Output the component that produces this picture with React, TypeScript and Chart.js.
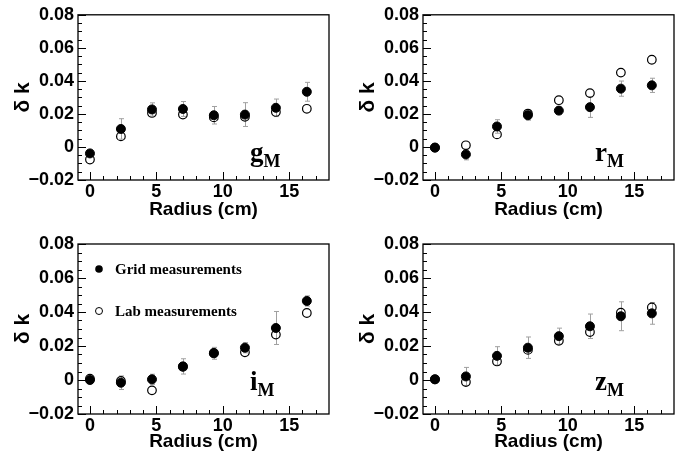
import React, { useEffect, useRef } from 'react';
import { Chart, registerables } from 'chart.js';

Chart.register(...registerables);

// ---------- data ----------
const radius = [0, 2.33, 4.67, 7.0, 9.33, 11.67, 14.0, 16.33];

const gGrid = [-0.0039, 0.0109, 0.0227, 0.023, 0.0192, 0.0196, 0.0237, 0.0334];
const gGridErr = [0.001, 0.0062, 0.004, 0.0045, 0.0053, 0.0072, 0.0053, 0.0057];
const gLab = [-0.0076, 0.0064, 0.0206, 0.0196, 0.0179, 0.0183, 0.0212, 0.0231];

const rGrid = [-0.0004, -0.0045, 0.0124, 0.0192, 0.022, 0.0241, 0.0353, 0.0373];
const rGridErr = [0.0008, 0.0033, 0.0041, 0.003, 0.002, 0.0062, 0.0046, 0.0043];
const rLab = [-0.0004, 0.001, 0.0076, 0.0202, 0.0283, 0.0326, 0.045, 0.0528];

const iGrid = [0.0, -0.0016, 0.0004, 0.008, 0.0157, 0.019, 0.0306, 0.0465];
const iGridErr = [0.001, 0.004, 0.003, 0.0045, 0.0035, 0.003, 0.0097, 0.003];
const iLab = [0.0008, -0.0006, -0.0061, 0.0078, 0.0159, 0.0163, 0.0267, 0.0394];

const zGrid = [0.0004, 0.0021, 0.0142, 0.019, 0.0258, 0.0316, 0.0375, 0.0392];
const zGridErr = [0.0008, 0.0053, 0.0054, 0.0063, 0.0047, 0.0072, 0.0085, 0.0064];
const zLab = [0.0004, -0.0012, 0.0109, 0.0177, 0.0231, 0.0282, 0.0396, 0.0427];

const xTickValues = [0, 5, 10, 15];
const xMinorValues = [0, 1, 2, 3, 4, 5, 6, 7, 8, 9, 10, 11, 12, 13, 14, 15, 16, 17];
const yTickValues = [-0.02, 0, 0.02, 0.04, 0.06, 0.08];
const yMinorValues = [-0.02, -0.015, -0.01, -0.005, 0, 0.005, 0.01, 0.015, 0.02, 0.025, 0.03, 0.035, 0.04, 0.045, 0.05, 0.055, 0.06, 0.065, 0.07, 0.075, 0.08];

const legendLabels = ['Grid measurements', 'Lab measurements'];
const xTitle = 'Radius (cm)';
const yTitle = 'δ k';

type PanelDef = {
  band: string;
  grid: number[];
  err: number[];
  lab: number[];
  left: number;
  top: number;
  legend: boolean;
  padTop: number;
  xAxisH: number;
  titlePad: number;
};

const panels: PanelDef[] = [
  { band: 'g', grid: gGrid, err: gGridErr, lab: gLab, left: 0, top: 0, legend: false, padTop: 9, xAxisH: 50, titlePad: 9 },
  { band: 'r', grid: rGrid, err: rGridErr, lab: rLab, left: 345, top: 0, legend: false, padTop: 9, xAxisH: 50, titlePad: 9 },
  { band: 'i', grid: iGrid, err: iGridErr, lab: iLab, left: 0, top: 229, legend: true, padTop: 15, xAxisH: 45, titlePad: 6 },
  { band: 'z', grid: zGrid, err: zGridErr, lab: zLab, left: 345, top: 229, legend: false, padTop: 15, xAxisH: 45, titlePad: 6 },
];

const SANS = "'Liberation Sans', Arial, sans-serif";
const SERIF = "'Liberation Serif', 'Times New Roman', serif";

function fmtY(v: number): string {
  if (Math.abs(v) < 1e-9) return '0';
  const s = Math.abs(v).toFixed(2);
  return v < 0 ? '\u2212' + s : s;
}

const rootPlugin = {
  id: 'rootStyle',
  beforeDatasetsDraw(chart: any) {
    const ctx = chart.ctx;
    const ys = chart.scales.y;
    const meta = chart.getDatasetMeta(1);
    const ds = chart.data.datasets[1] as any;
    const errs: number[] = ds.errors || [];
    ctx.save();
    ctx.strokeStyle = '#a0a0a0';
    ctx.lineWidth = 1;
    meta.data.forEach((pt: any, i: number) => {
      const v = ds.data[i].y;
      const e = errs[i];
      const x = Math.round(pt.x) + 0.5;
      const y1 = ys.getPixelForValue(v + e);
      const y2 = ys.getPixelForValue(v - e);
      ctx.beginPath();
      ctx.moveTo(x, y1);
      ctx.lineTo(x, y2);
      ctx.moveTo(x - 2.5, y1);
      ctx.lineTo(x + 2.5, y1);
      ctx.moveTo(x - 2.5, y2);
      ctx.lineTo(x + 2.5, y2);
      ctx.stroke();
    });
    ctx.restore();
  },
  afterDraw(chart: any) {
    const ctx = chart.ctx;
    const { left, top, right, bottom } = chart.chartArea;
    const xs = chart.scales.x;
    const ys = chart.scales.y;
    const opts = chart.options.plugins.rootStyle || {};
    ctx.save();
    ctx.strokeStyle = '#000';
    ctx.lineWidth = 1.3;
    ctx.strokeRect(left, top, right - left, bottom - top);
    ctx.lineWidth = 1;
    ctx.beginPath();
    yMinorValues.forEach((v) => {
      const y = Math.round(ys.getPixelForValue(v)) + 0.5;
      const major = yTickValues.some((t) => Math.abs(t - v) < 1e-9);
      ctx.moveTo(left, y);
      ctx.lineTo(left + (major ? 8 : 4), y);
    });
    xMinorValues.forEach((v) => {
      const x = Math.round(xs.getPixelForValue(v)) + 0.5;
      const major = xTickValues.includes(v);
      ctx.moveTo(x, bottom);
      ctx.lineTo(x, bottom - (major ? 8 : 4));
    });
    ctx.stroke();

    // band label
    ctx.fillStyle = '#000';
    ctx.textBaseline = 'alphabetic';
    ctx.textAlign = 'left';
    ctx.font = `bold 27px ${SERIF}`;
    const bx = left + 172;
    const by = top + 146;
    ctx.fillText(opts.band, bx, by);
    const w = ctx.measureText(opts.band).width;
    ctx.font = `bold 18px ${SERIF}`;
    ctx.fillText('M', bx + w, by + 6);

    if (opts.legend) {
      const mx = left + 21;
      const rows = [top + 25, top + 67];
      ctx.beginPath();
      ctx.arc(mx, rows[0], 3.8, 0, Math.PI * 2);
      ctx.fill();
      ctx.beginPath();
      ctx.lineWidth = 1;
      ctx.arc(mx, rows[1], 3.5, 0, Math.PI * 2);
      ctx.stroke();
      ctx.font = `bold 15px ${SERIF}`;
      ctx.fillText(legendLabels[0], left + 37, rows[0] + 5);
      ctx.fillText(legendLabels[1], left + 37, rows[1] + 5);
    }
    ctx.restore();
  },
};

function Panel({ def }: { def: PanelDef }) {
  const ref = useRef<HTMLCanvasElement | null>(null);
  useEffect(() => {
    if (!ref.current) return;
    const chart = new Chart(ref.current, {
      type: 'scatter',
      data: {
        datasets: [
          {
            label: legendLabels[1],
            data: radius.map((x, i) => ({ x, y: def.lab[i] })),
            pointRadius: 4.3,
            pointBackgroundColor: 'rgba(0,0,0,0)',
            pointBorderColor: '#000',
            pointBorderWidth: 1.2,
            showLine: false,
          },
          {
            label: legendLabels[0],
            data: radius.map((x, i) => ({ x, y: def.grid[i] })),
            errors: def.err,
            pointRadius: 4.5,
            pointBackgroundColor: '#000',
            pointBorderColor: '#000',
            pointBorderWidth: 1,
            showLine: false,
          } as any,
        ],
      },
      options: {
        responsive: false,
        animation: false,
        devicePixelRatio: 1,
        layout: { padding: { top: def.padTop, right: 21, left: 0, bottom: 0 } },
        plugins: {
          legend: { display: false },
          tooltip: { enabled: false },
          rootStyle: { band: def.band, legend: def.legend },
        } as any,
        scales: {
          x: {
            type: 'linear',
            min: -0.9,
            max: 18,
            grid: { display: false, drawTicks: false },
            border: { display: false },
            afterBuildTicks: (s: any) => {
              s.ticks = xTickValues.map((v) => ({ value: v }));
            },
            afterFit: (s: any) => {
              s.height = def.xAxisH;
            },
            ticks: {
              color: '#000',
              padding: 1,
              maxRotation: 0,
              autoSkip: false,
              font: { family: SANS, size: 18, weight: 'bold' },
              callback: (v: any) => String(v),
            },
            title: {
              display: true,
              text: xTitle,
              color: '#000',
              font: { family: SANS, size: 19, weight: 'bold' },
              padding: { top: 0, bottom: def.titlePad },
            },
          },
          y: {
            type: 'linear',
            min: -0.02,
            max: 0.08,
            grid: { display: false, drawTicks: false },
            border: { display: false },
            afterBuildTicks: (s: any) => {
              s.ticks = yTickValues.map((v) => ({ value: v }));
            },
            afterFit: (s: any) => {
              s.width = 78;
            },
            ticks: {
              color: '#000',
              padding: 4,
              autoSkip: false,
              font: { family: SANS, size: 18, weight: 'bold' },
              callback: (v: any) => fmtY(Number(v)),
            },
            title: {
              display: true,
              text: yTitle,
              color: '#000',
              font: { family: SANS, size: 21, weight: 'bold' },
              padding: { top: 11, bottom: 0 },
            },
          },
        },
      },
      plugins: [rootPlugin],
    } as any);
    return () => chart.destroy();
  }, [def]);
  return (
    <canvas
      ref={ref}
      width={350}
      height={230}
      style={{ position: 'absolute', left: def.left, top: def.top, width: 350, height: 230, display: 'block' }}
    />
  );
}

export default function App() {
  return (
    <div style={{ position: 'fixed', left: 0, top: 0, width: 695, height: 459, background: '#fff', overflow: 'hidden' }}>
      {panels.map((p) => (
        <Panel key={p.band} def={p} />
      ))}
    </div>
  );
}
